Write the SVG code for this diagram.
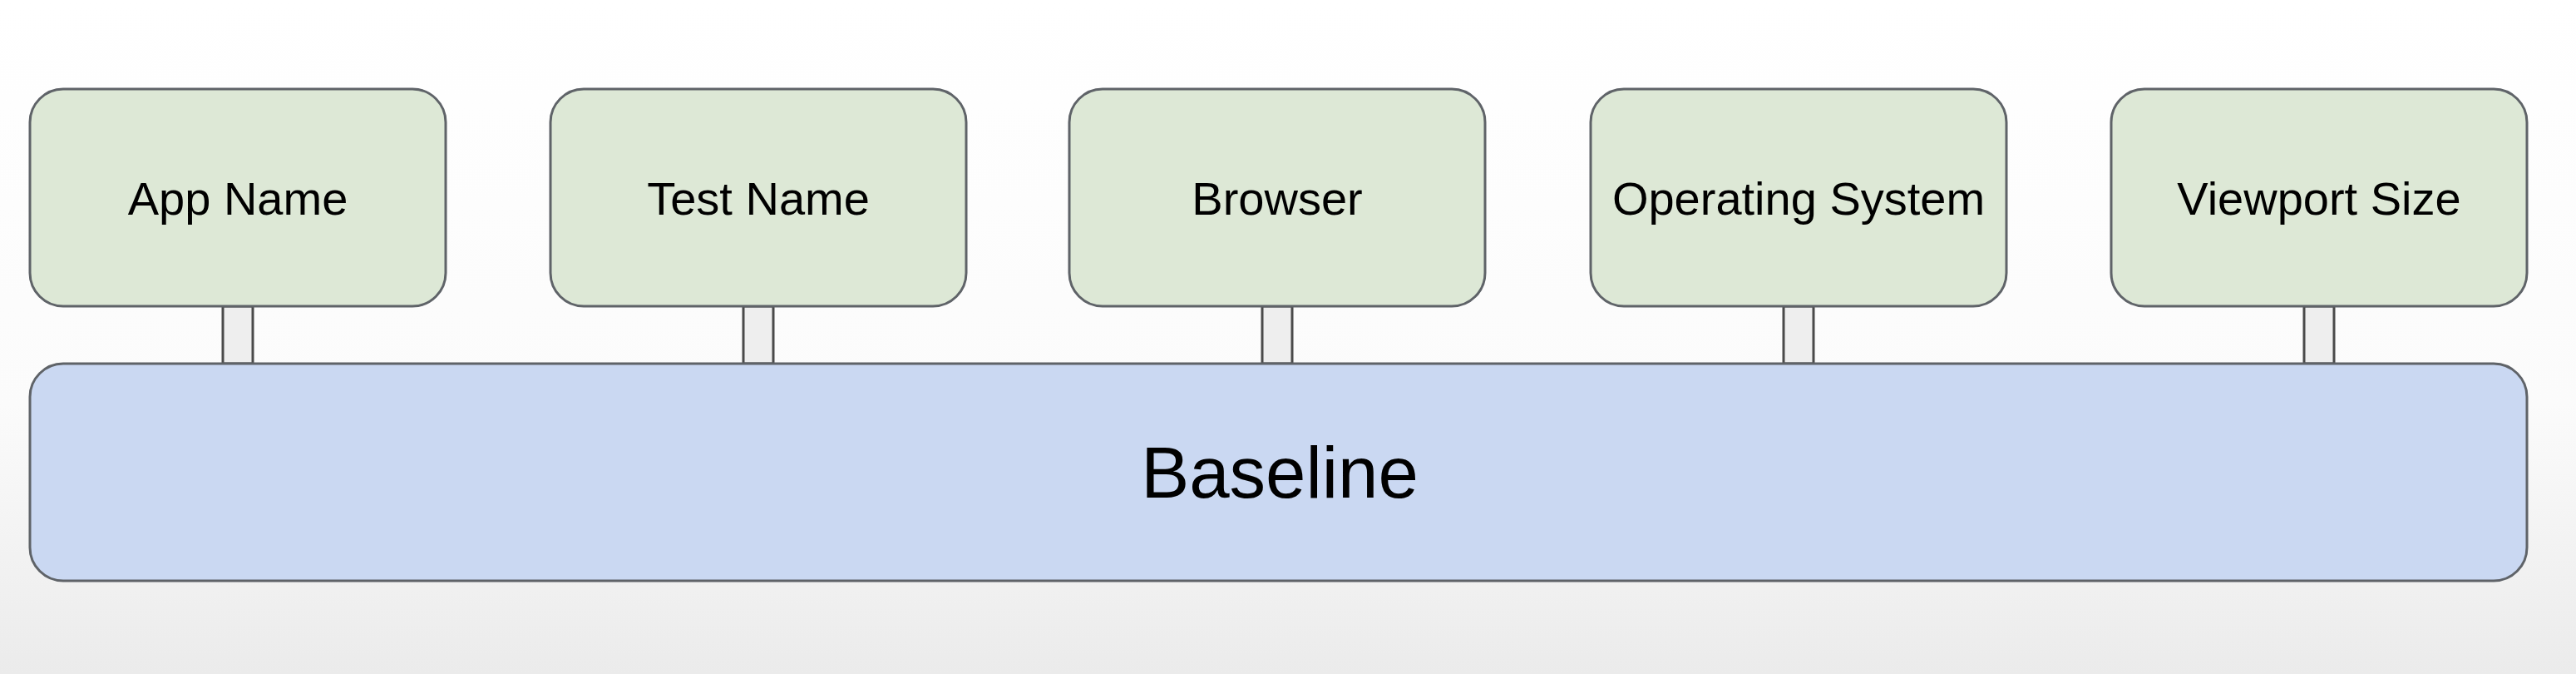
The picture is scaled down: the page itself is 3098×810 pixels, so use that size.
<svg xmlns="http://www.w3.org/2000/svg" width="3098" height="810" viewBox="0 0 3098 810">
  <defs>
    <linearGradient id="bg" x1="0" y1="0" x2="0" y2="1">
      <stop offset="0" stop-color="#ffffff"/>
      <stop offset="0.6" stop-color="#fbfbfb"/>
      <stop offset="1" stop-color="#ebebeb"/>
    </linearGradient>
    <style>
      .node rect { fill: #dde8d6; stroke: #5f6368; stroke-width: 3; }
      .base rect { fill: #cad8f2; stroke: #5f6368; stroke-width: 3; }
      .link { fill: #eeeeee; stroke: #4a4a4a; stroke-width: 3; }
      text { font-family: "Liberation Sans", Arial, sans-serif; fill: #000000; text-anchor: middle; }
      .lbl { font-size: 56px; }
      .big { font-size: 87px; }
    </style>
  </defs>
  <rect x="0" y="0" width="3098" height="810" fill="url(#bg)"/>

  <g id="connectors">
    <rect class="link" x="268" y="368" width="36" height="69"/>
    <rect class="link" x="894" y="368" width="36" height="69"/>
    <rect class="link" x="1518" y="368" width="36" height="69"/>
    <rect class="link" x="2145" y="368" width="36" height="69"/>
    <rect class="link" x="2771" y="368" width="36" height="69"/>
  </g>

  <g id="app-name" class="node">
    <rect x="36" y="107" width="500" height="261" rx="40" ry="40"/>
    <text class="lbl" x="286" y="258">App Name</text>
  </g>
  <g id="test-name" class="node">
    <rect x="662" y="107" width="500" height="261" rx="40" ry="40"/>
    <text class="lbl" x="912" y="258">Test Name</text>
  </g>
  <g id="browser" class="node">
    <rect x="1286" y="107" width="500" height="261" rx="40" ry="40"/>
    <text class="lbl" x="1536" y="258">Browser</text>
  </g>
  <g id="operating-system" class="node">
    <rect x="1913" y="107" width="500" height="261" rx="40" ry="40"/>
    <text class="lbl" x="2163" y="258">Operating System</text>
  </g>
  <g id="viewport-size" class="node">
    <rect x="2539" y="107" width="500" height="261" rx="40" ry="40"/>
    <text class="lbl" x="2789" y="258">Viewport Size</text>
  </g>

  <g id="baseline" class="base">
    <rect x="36" y="437" width="3003" height="261" rx="40" ry="40"/>
    <text class="big" x="1539" y="598">Baseline</text>
  </g>
</svg>
